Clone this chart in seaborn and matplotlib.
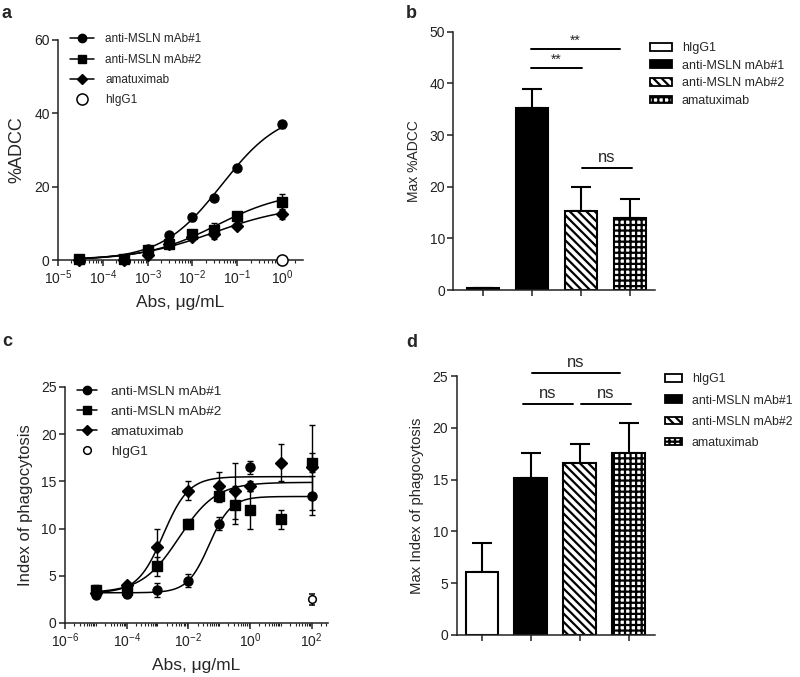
import numpy as np
import pandas as pd
import matplotlib
matplotlib.use("Agg")
import matplotlib.pyplot as plt
import seaborn as sns
from matplotlib.lines import Line2D
from matplotlib.patches import Patch
from matplotlib.ticker import FixedLocator, LogLocator, FuncFormatter, NullFormatter

sns.set_style("ticks")
plt.rcParams['font.family'] = ['Liberation Sans', 'DejaVu Sans']
plt.rcParams['mathtext.default'] = 'regular'
plt.rcParams['hatch.linewidth'] = 1.6

# ---- data ----
series_names = ['anti-MSLN mAb#1', 'anti-MSLN mAb#2', 'amatuximab']
control_name = 'hIgG1'
bar_groups = ['hIgG1', 'anti-MSLN mAb#1', 'anti-MSLN mAb#2', 'amatuximab']

# a: ADCC dose response
adcc_conc = [3e-5, 3e-4, 1e-3, 3e-3, 1e-2, 3e-2, 1e-1, 1.0]
adcc_mab1 = [0.3, 0.3, 3.0, 6.8, 11.6, 17.0, 25.0, 37.0]
adcc_mab1_err = [0.5, 0.5, 0.6, 0.5, 1.0, 0.5, 0.6, 1.0]
adcc_mab2 = [0.2, 0.3, 2.7, 4.4, 7.0, 8.2, 12.1, 15.8]
adcc_mab2_err = [0.5, 0.5, 0.5, 0.6, 0.8, 2.0, 0.6, 2.3]
adcc_amx = [0.0, 0.0, 1.4, 4.3, 6.2, 7.0, 9.2, 12.5]
adcc_amx_err = [0.5, 0.5, 0.6, 0.6, 0.8, 1.2, 0.6, 1.4]
adcc_igg_conc = [1.0]
adcc_igg = [0.0]
# 4PL fit parameters (bottom, top, EC50, hill)
adcc_fit_bottom = [0.0, 0.0, 0.0]
adcc_fit_top = [41.0, 19.0, 15.0]
adcc_fit_ec50 = [0.045, 0.035, 0.03]
adcc_fit_hill = [0.65, 0.55, 0.5]

# b: max ADCC
adcc_max = [0.3, 35.3, 15.3, 13.9]
adcc_max_sem = [0.0, 3.6, 4.6, 3.7]
adcc_sig = [(0.98, 2.02, 42.9, '**'), (0.98, 2.8, 46.6, '**'), (2.02, 3.05, 23.7, 'ns')]

# c: phagocytosis dose response
phago_conc = [1e-5, 1e-4, 1e-3, 1e-2, 1e-1, 0.316, 1.0, 10.0, 100.0]
phago_mab1 = [3.0, 3.1, 3.5, 4.5, 10.5, np.nan, 16.5, np.nan, 13.5]
phago_mab1_err = [0.4, 0.3, 0.7, 0.7, 0.7, np.nan, 0.7, np.nan, 2.1]
phago_mab2 = [3.5, 3.5, 6.0, 10.5, 13.5, 12.5, 12.0, 11.0, 17.0]
phago_mab2_err = [0.5, 0.3, 1.0, 0.5, 0.7, 2.0, 2.0, 1.0, 1.0]
phago_amx = [3.2, 4.0, 8.0, 14.0, 14.5, 14.0, 14.5, 17.0, 16.5]
phago_amx_err = [0.3, 0.3, 2.0, 1.0, 1.5, 3.0, 0.5, 2.0, 4.5]
phago_igg_conc = [100.0]
phago_igg = [2.5]
phago_igg_err = [0.6]
phago_fit_bottom = [3.2, 3.2, 3.2]
phago_fit_top = [13.4, 14.9, 15.5]
phago_fit_ec50 = [0.0475, 0.005, 0.00153]
phago_fit_hill = [1.24, 0.72, 1.05]

# d: max phagocytosis
phago_max = [6.1, 15.2, 16.6, 17.6]
phago_max_sem = [2.8, 2.4, 1.8, 2.9]
phago_sig = [(1.02, 2.82, 25.3, 'ns'), (0.84, 1.86, 22.3, 'ns'), (2.02, 3.04, 22.3, 'ns')]

markers = ['o', 's', 'D']
bar_faces = ['white', 'black', 'white', 'white']
bar_hatches = [None, None, '\\\\\\\\', '+++']


def four_pl(x, bottom, top, ec50, hill):
    return bottom + (top - bottom) / (1 + (ec50 / x) ** hill)


def sup_fmt(v, pos):
    return r'$10^{%d}$' % int(round(np.log10(v)))


def style_axis(ax):
    for s in ['top', 'right']:
        ax.spines[s].set_visible(False)
    for s in ['left', 'bottom']:
        ax.spines[s].set_linewidth(1.1)
        ax.spines[s].set_color('#222222')
    ax.tick_params(which='major', direction='out', length=4, width=1.1,
                   labelsize=10, colors='#222222', pad=2)
    ax.tick_params(which='minor', direction='out', length=2, width=0.8, colors='#222222')


fig = plt.figure(figsize=(8, 6.77), dpi=100)


def dose_panel(rect, conc, means, errs, fit, ctrl, xlim, ylim, yticks, majors, minor_subs,
               ylabel, ylab_size, leg_font, leg_anchor, leg_hl, leg_ls, igg_size):
    ax = fig.add_axes(rect)
    bottoms, tops, ec50s, hills = fit
    for i in range(3):
        xs = np.logspace(np.log10(conc[0]), np.log10(conc[-1]), 300)
        ys = four_pl(xs, bottoms[i], tops[i], ec50s[i], hills[i])
        sns.lineplot(x=xs, y=ys, color='black', lw=1.1, ax=ax, zorder=2)
        ax.errorbar(conc, means[i], yerr=errs[i], fmt=markers[i], color='black',
                    ms=6.5 if markers[i] != 'D' else 5.8, capsize=2.5, elinewidth=1,
                    capthick=1, zorder=3, clip_on=False)
    cx, cy, cerr = ctrl
    ax.errorbar(cx, cy, yerr=cerr, fmt='o', mfc='white', mec='black', mew=1.1,
                color='black', ms=igg_size, capsize=2.5, elinewidth=1, zorder=4, clip_on=False)
    ax.set_xscale('log')
    ax.set_xlim(*xlim)
    ax.set_ylim(*ylim)
    ax.set_yticks(yticks)
    ax.xaxis.set_major_locator(FixedLocator(majors))
    ax.xaxis.set_major_formatter(FuncFormatter(sup_fmt))
    ax.xaxis.set_minor_locator(LogLocator(base=10, subs=minor_subs, numticks=60))
    ax.xaxis.set_minor_formatter(NullFormatter())
    style_axis(ax)
    ax.set_xlabel('Abs, μg/mL', fontsize=12.5, labelpad=6)
    ax.set_ylabel(ylabel, fontsize=ylab_size, labelpad=6)
    handles = [Line2D([], [], color='black', lw=1.1, marker=m, ms=6 if m != 'D' else 5.5)
               for m in markers]
    handles.append(Line2D([], [], color='none', marker='o', mfc='white', mec='black',
                          mew=1.1, ms=igg_size))
    ax.legend(handles, series_names + [control_name], loc='upper left',
              bbox_to_anchor=leg_anchor, frameon=False, fontsize=leg_font,
              handlelength=leg_hl, handletextpad=1.0, labelspacing=leg_ls,
              borderpad=0, borderaxespad=0)
    return ax


def bar_panel(rect, means, sems, sig, xlim, ylim, yticks, ylabel, ylab_size,
              leg_font, leg_anchor, leg_hl, leg_ls):
    ax = fig.add_axes(rect)
    df = pd.DataFrame({'group': bar_groups, 'value': means})
    sns.barplot(data=df, x='group', y='value', hue='group', palette=bar_faces,
                order=bar_groups, hue_order=bar_groups, legend=False, width=0.66,
                edgecolor='black', linewidth=1.5, saturation=1, ax=ax, zorder=2)
    patches = sorted(ax.patches, key=lambda p: p.get_x())
    for p, fc, h in zip(patches, bar_faces, bar_hatches):
        p.set_facecolor(fc)
        p.set_edgecolor('black')
        if h:
            p.set_hatch(h)
    ax.errorbar(range(len(bar_groups)), means, yerr=[np.zeros(len(sems)), sems],
                fmt='none', ecolor='black', elinewidth=1.5, capsize=7, capthick=1.5, zorder=1)
    for x1, x2, y, lab in sig:
        ax.plot([x1, x2], [y, y], color='black', lw=1.4, clip_on=False)
        if lab == '**':
            ax.text((x1 + x2) / 2, y + ylim[1] * 0.005, lab, ha='center', va='bottom',
                    fontsize=10, clip_on=False)
        else:
            ax.text((x1 + x2) / 2, y + ylim[1] * 0.01, lab, ha='center', va='bottom',
                    fontsize=12, clip_on=False)
    ax.set_xlim(*xlim)
    ax.set_ylim(*ylim)
    ax.set_yticks(yticks)
    ax.set_xticks(range(len(bar_groups)))
    ax.set_xticklabels([''] * len(bar_groups))
    ax.set_xlabel('')
    style_axis(ax)
    ax.set_ylabel(ylabel, fontsize=ylab_size, labelpad=6)
    handles = [Patch(facecolor=fc, edgecolor='black', hatch=h, linewidth=1.3)
               for fc, h in zip(bar_faces, bar_hatches)]
    ax.legend(handles, bar_groups, loc='upper left', bbox_to_anchor=leg_anchor,
              frameon=False, fontsize=leg_font, handlelength=leg_hl, handleheight=0.6,
              handletextpad=0.8, labelspacing=leg_ls, borderpad=0, borderaxespad=0)
    return ax


W, H = 800.0, 677.0

# a
dose_panel([58 / W, 1 - 260 / H, (303 - 58) / W, 220 / H],
           adcc_conc, [adcc_mab1, adcc_mab2, adcc_amx],
           [adcc_mab1_err, adcc_mab2_err, adcc_amx_err],
           (adcc_fit_bottom, adcc_fit_top, adcc_fit_ec50, adcc_fit_hill),
           (adcc_igg_conc, adcc_igg, None),
           (1e-5, 10 ** 0.47), (0, 60), [0, 20, 40, 60],
           [1e-5, 1e-4, 1e-3, 1e-2, 1e-1, 1e0], np.arange(2, 10),
           '%ADCC', 13, 8.5, (0.049, 1.03), 2.0, 0.7, 8)

# c
dose_panel([65 / W, 1 - 623 / H, (327.7 - 65) / W, 236 / H],
           phago_conc, [phago_mab1, phago_mab2, phago_amx],
           [phago_mab1_err, phago_mab2_err, phago_amx_err],
           (phago_fit_bottom, phago_fit_top, phago_fit_ec50, phago_fit_hill),
           (phago_igg_conc, phago_igg, phago_igg_err),
           (1e-6, 10 ** 2.52), (0, 25), [0, 5, 10, 15, 20, 25],
           [1e-6, 1e-4, 1e-2, 1e0, 1e2], np.arange(1, 10),
           'Index of phagocytosis', 12, 9.7, (0.046, 1.006), 1.5, 0.55, 5.5)

# b
bar_panel([453.3 / W, 1 - 290 / H, (655 - 453.3) / W, 258.3 / H],
          adcc_max, adcc_max_sem, adcc_sig, (-0.6, 3.51), (0, 50),
          [0, 10, 20, 30, 40, 50], 'Max %ADCC', 10, 9, (0.975, 0.96), 1.75, 0.45)

# d
bar_panel([456.7 / W, 1 - 635 / H, (655 - 456.7) / W, 259 / H],
          phago_max, phago_max_sem, phago_sig, (-0.51, 3.54), (0, 25),
          [0, 5, 10, 15, 20, 25], 'Max Index of phagocytosis', 10.7, 8.8,
          (1.05, 1.01), 1.4, 0.75)

# panel letters
for lab, x, y in [('a', 2, 5), ('b', 406, 5), ('c', 2, 333), ('d', 406, 334)]:
    fig.text(x / W, 1 - y / H, lab, fontsize=13, fontweight='bold', va='top', ha='left')

fig.savefig('out.png', dpi=100)
